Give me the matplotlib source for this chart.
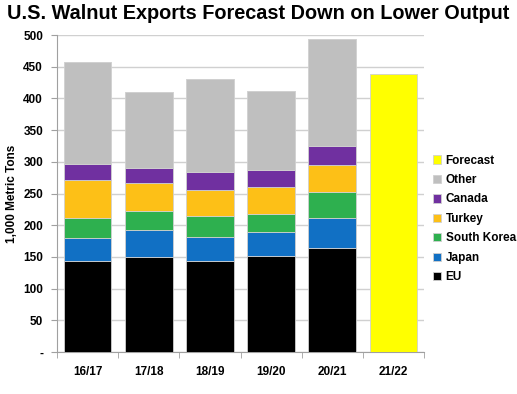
import matplotlib.pyplot as plt
import numpy as np

years = ['16/17', '17/18', '18/19', '19/20', '20/21', '21/22']
eu = [143, 150, 144, 151, 164, 0]
japan = [37, 43, 38, 39, 47, 0]
south_korea = [32, 29, 33, 27, 42, 0]
turkey = [59, 44, 40, 43, 42, 0]
canada = [25, 25, 29, 27, 30, 0]
other = [162, 119, 146, 125, 168, 0]
forecast = [0, 0, 0, 0, 0, 439]

series = [
    ('EU', eu, '#000000'),
    ('Japan', japan, '#1170c4'),
    ('South Korea', south_korea, '#2eb04f'),
    ('Turkey', turkey, '#fdc017'),
    ('Canada', canada, '#7030a0'),
    ('Other', other, '#bfbfbf'),
    ('Forecast', forecast, '#ffff00'),
]

plt.rcParams['font.family'] = ['Liberation Sans', 'DejaVu Sans']

fig = plt.figure(figsize=(5.17, 3.94), dpi=100)
ax = fig.add_axes([57 / 517, 1 - 352 / 394, 367 / 517, 317 / 394])

x = np.arange(len(years))
bottom = np.zeros(len(years))
handles = []
for name, vals, color in series:
    vals = np.array(vals, dtype=float)
    b = ax.bar(x, vals, 0.78, bottom=bottom, color=color, label=name,
               edgecolor='#d0d0d0', linewidth=0.6, zorder=3)
    handles.append(b)
    bottom += vals

ax.set_xlim(-0.5, len(years) - 0.5)
ax.set_ylim(0, 500)
ax.set_yticks(range(0, 501, 50))
ax.set_yticklabels(['-'] + [str(v) for v in range(50, 501, 50)],
                   fontsize=8.5, fontweight='bold')
ax.set_xticks(x)
ax.set_xticklabels(years, fontsize=8.5, fontweight='bold')
ax.tick_params(axis='x', length=0, pad=10)
ax.set_xticks(np.arange(-0.5, len(years), 1), minor=True)
ax.tick_params(axis='x', which='minor', length=4, color='#a0a0a0')
ax.tick_params(axis='y', length=4, color='#a0a0a0', pad=6)

ax.grid(axis='y', color='#d0d0d0', linewidth=1, zorder=0)
for s in ['top', 'right']:
    ax.spines[s].set_visible(False)
ax.spines['left'].set_color('#a0a0a0')
ax.spines['bottom'].set_color('#a0a0a0')

ax.set_ylabel('1,000 Metric Tons', fontsize=8.5, fontweight='bold')

# Легенда справа, в обратном порядке
leg = fig.legend(handles[::-1], [s[0] for s in series][::-1],
                 loc='upper left', bbox_to_anchor=(422 / 517, 1 - 144 / 394),
                 frameon=False, fontsize=8.5, handlelength=0.7,
                 handleheight=0.7, handletextpad=0.4, labelspacing=0.63)
for t in leg.get_texts():
    t.set_fontweight('bold')

fig.suptitle('U.S. Walnut Exports Forecast Down on Lower Output',
             fontsize=14.3, fontweight='bold', x=0.5, y=0.99)

plt.savefig('out.png', dpi=100)
